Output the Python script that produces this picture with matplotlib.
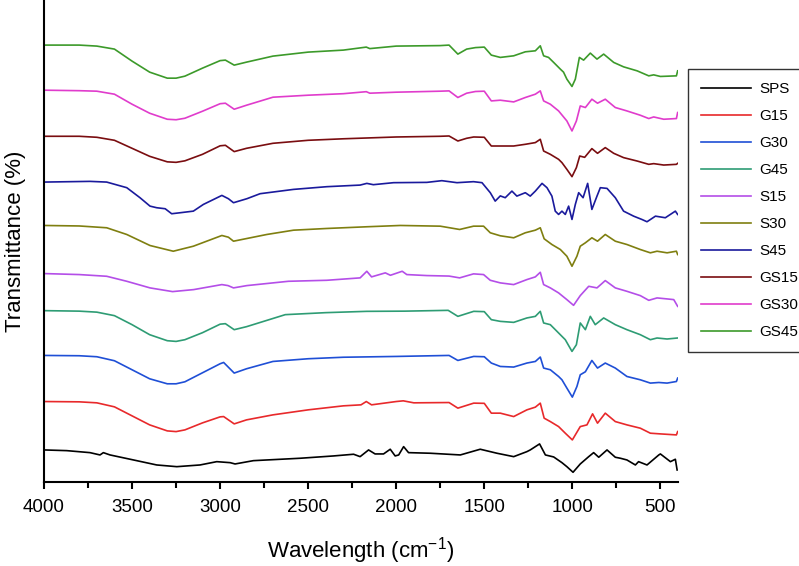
import matplotlib
matplotlib.use("Agg")
import matplotlib.pyplot as plt
from matplotlib.ticker import MultipleLocator

plt.rcParams['font.family'] = ['Liberation Sans', 'DejaVu Sans']
plt.rcParams['mathtext.fontset'] = 'custom'
plt.rcParams['mathtext.rm'] = 'Liberation Sans'
plt.rcParams['mathtext.it'] = 'Liberation Sans'

# FTIR spectra (wavenumber in cm-1, stacked transmittance in a.u.)
wn_sps = [4000, 3871, 3739, 3682, 3663, 3625, 3492, 3360, 3246, 3114, 3019, 2943, 2915, 2811, 2545, 2356,
          2242, 2205, 2157, 2120, 2072, 2034, 2006, 1986, 1958, 1930, 1807, 1636, 1523, 1428, 1333, 1258,
          1239, 1186, 1153, 1106, 1059, 1031, 996, 955, 907, 879, 850, 803, 756, 727, 690, 642, 624, 576,
          509, 500, 443, 415, 405]
t_sps = [32, 31.3, 29.3, 27, 29.3, 27, 22, 17, 15.3, 17, 20.3, 19.3, 18, 21.3, 23.7, 26,
         27.7, 25.3, 32, 28, 28, 32.7, 26, 27, 35.3, 29.3, 28.7, 27, 32.7, 28.7, 25.3, 30.3,
         32, 38, 27, 25, 19.3, 15.3, 9.7, 18, 25.3, 29.3, 24.7, 32, 24.7, 23.7, 22, 17, 20.3, 17,
         27, 28, 20.3, 22.7, 12]

wn_g15 = [4000, 3800, 3700, 3600, 3500, 3400, 3300, 3250, 3200, 3100, 3000, 2980, 2920, 2850, 2700, 2500,
          2300, 2200, 2170, 2140, 2000, 1960, 1900, 1700, 1650, 1560, 1500, 1460, 1409, 1333, 1258, 1210,
          1182, 1160, 1125, 1078, 1040, 1000, 955, 917, 885, 857, 813, 756, 690, 614, 557, 500, 409, 402]
t_g15 = [80.3, 80, 79, 75, 66, 57, 51, 50.3, 52, 59, 65, 65.3, 58, 62, 67, 72,
         76, 77, 80.3, 77, 80.3, 81, 79, 79.3, 73.7, 78.7, 78.5, 68.7, 68.7, 65.3, 72, 74.7,
         78.7, 63.7, 60.3, 55.3, 48.7, 42, 55.3, 57, 68, 58.7, 68.7, 60.3, 57, 53.7, 48.7, 48, 47, 50.3]

wn_g30 = [4000, 3800, 3700, 3600, 3500, 3400, 3300, 3250, 3200, 3100, 3000, 2980, 2920, 2850, 2700, 2500,
          2300, 2000, 1700, 1650, 1560, 1500, 1460, 1409, 1333, 1258, 1210, 1182, 1163, 1125, 1078, 1059,
          1031, 1000, 974, 955, 926, 889, 857, 813, 756, 690, 614, 557, 509, 462, 409, 402]
t_g30 = [126.3, 126, 125, 121, 112, 103, 98, 98, 100, 109, 118, 119.3, 108.7, 113, 120.3, 123,
         124.5, 125.3, 126.3, 121.3, 125.3, 125, 118.7, 115.3, 114.7, 118.7, 120.3, 124.7, 113.7, 112, 105.3, 102,
         93.7, 84.7, 95.3, 107, 110, 121.3, 113.7, 118.7, 113.7, 105.3, 102, 98.7, 99.3, 98.7, 100.3, 103.7]

wn_g45 = [4000, 3800, 3700, 3600, 3500, 3400, 3300, 3250, 3200, 3100, 3000, 2970, 2920, 2850, 2630, 2400,
          2168, 1950, 1705, 1650, 1560, 1500, 1460, 1409, 1333, 1258, 1210, 1182, 1163, 1125, 1087, 1040,
          1002, 977, 955, 926, 898, 870, 822, 756, 690, 614, 557, 519, 462, 402]
t_g45 = [171, 170.5, 169.5, 166, 157, 147, 141, 140.3, 142, 149, 157.5, 158, 152, 155, 167, 169,
         170.3, 170.5, 171.3, 165.3, 170.3, 170, 162, 160.3, 159.3, 163.7, 165.3, 170.3, 158.7, 157, 150.3, 142,
         130.3, 137, 158.7, 152, 165.3, 157, 163.7, 157, 152, 147, 142, 143.7, 142.7, 143.7]

wn_s15 = [4000, 3800, 3644, 3530, 3398, 3270, 3150, 2990, 2955, 2924, 2848, 2612, 2394, 2205, 2167, 2140,
          2062, 2033, 1966, 1940, 1826, 1700, 1640, 1561, 1504, 1466, 1409, 1333, 1258, 1210, 1182, 1163,
          1125, 1078, 1031, 993, 955, 907, 860, 813, 756, 690, 614, 566, 519, 462, 424, 402]
t_s15 = [208, 207, 205.3, 200.3, 193.7, 190, 192, 197, 196, 193.7, 196, 200.3, 201.3, 203.7, 210.3, 204.7,
         208.7, 206.3, 210.3, 207, 206, 205.5, 203.7, 207.7, 207, 201.3, 198.7, 197, 202, 204.7, 209.3, 197,
         193.7, 188.7, 182, 176.3, 186, 195.3, 193.7, 201, 193.7, 190.3, 186, 181.3, 183.7, 182.7, 182, 175.3]

wn_s30 = [4000, 3800, 3644, 3530, 3398, 3266, 3152, 2990, 2953, 2924, 2848, 2735, 2583, 2394, 2167, 1977,
          1750, 1640, 1561, 1504, 1466, 1409, 1333, 1267, 1210, 1182, 1160, 1116, 1068, 1031, 1002, 974,
          955, 926, 889, 857, 813, 756, 690, 614, 557, 519, 462, 409, 402]
t_s30 = [256, 255.5, 253.7, 247, 236, 230.3, 235.3, 246, 244.3, 240.3, 243, 247, 251.3, 253, 254.7, 256,
         255.3, 252, 255.3, 255.3, 248.7, 245.7, 243.7, 248.7, 251.3, 253.7, 242.7, 237, 232, 225.3, 215.3, 225.3,
         235.3, 238.7, 243.7, 240.3, 247, 240.3, 237, 232, 228.7, 230.3, 228.7, 230.3, 227]

wn_s45 = [4000, 3739, 3644, 3530, 3455, 3398, 3360, 3312, 3275, 3227, 3152, 3095, 2990, 2953, 2924, 2848,
          2773, 2583, 2394, 2205, 2167, 2130, 2015, 1826, 1741, 1655, 1561, 1513, 1466, 1438, 1409, 1381,
          1343, 1315, 1267, 1239, 1210, 1172, 1144, 1116, 1097, 1078, 1059, 1040, 1021, 1002, 983, 964,
          939, 913, 889, 860, 841, 803, 756, 709, 652, 605, 576, 528, 472, 415, 402]
t_s45 = [299.3, 300, 299.3, 293.7, 283.7, 275.3, 273.7, 272.7, 267.7, 268.7, 270.3, 277, 286, 282.7, 278.7, 282.7,
         287.7, 292, 294.7, 296.3, 298, 296.7, 298.7, 299, 300.7, 298.7, 299.7, 298.7, 288.7, 280.3, 285.5, 283.7,
         290.3, 285.3, 288.7, 285.3, 290.3, 298, 293.7, 285.3, 270.3, 267, 270.3, 267, 275.3, 262, 277, 288.7,
         283.7, 298, 272, 285.3, 293.7, 293, 283.7, 270.3, 265.3, 262, 259.7, 265.3, 263.7, 270.3, 267]

wn_gs15 = [4000, 3800, 3700, 3600, 3500, 3400, 3300, 3250, 3200, 3100, 3000, 2970, 2920, 2850, 2700, 2500,
           2300, 2000, 1750, 1700, 1650, 1600, 1560, 1500, 1460, 1409, 1333, 1267, 1210, 1182, 1163, 1125,
           1078, 1059, 1031, 1002, 977, 958, 930, 889, 857, 813, 765, 709, 632, 566, 538, 481, 409, 402]
t_gs15 = [345, 345, 344, 341, 333, 325, 319.5, 319, 320.5, 327, 335.5, 336, 329.7, 333, 338, 341,
          342.5, 344.3, 345, 345.3, 340.3, 343, 344.3, 344, 335.3, 335.3, 335.3, 337, 338.7, 342, 330.3, 327,
          322, 318.7, 312, 304.7, 313.7, 325.3, 324, 332.7, 328, 333.7, 328, 323.7, 320.3, 317, 317.7, 316.3, 317, 318]

wn_gs30 = [4000, 3800, 3700, 3600, 3500, 3400, 3300, 3250, 3200, 3100, 3000, 2970, 2920, 2850, 2700, 2500,
           2300, 2170, 2150, 2000, 1750, 1700, 1650, 1600, 1550, 1500, 1460, 1409, 1333, 1267, 1210, 1182,
           1163, 1125, 1078, 1031, 1002, 977, 955, 926, 889, 857, 813, 756, 690, 614, 566, 538, 481, 409, 402]
t_gs30 = [391, 390.5, 390, 387, 377, 368, 362, 361.5, 363, 370, 377.5, 378, 372, 376, 384, 386,
          387.5, 389.5, 388, 389, 390, 390.3, 383.7, 388, 389.7, 390, 380.3, 381, 379.3, 383.7, 387, 390.3,
          380.3, 377, 370.3, 360.3, 350.3, 360.3, 375.3, 373.7, 382, 378, 382, 373.7, 370.3, 366, 362.7, 364.3, 362, 362.7, 368.7]

wn_gs45 = [4000, 3800, 3700, 3600, 3500, 3400, 3300, 3250, 3200, 3100, 3000, 2970, 2920, 2850, 2700, 2500,
           2300, 2170, 2150, 2000, 1750, 1700, 1650, 1600, 1550, 1500, 1460, 1409, 1333, 1267, 1210, 1182,
           1163, 1135, 1106, 1068, 1050, 1031, 1002, 983, 960, 936, 898, 860, 822, 765, 709, 632, 566, 538,
           500, 409, 402]
t_gs45 = [436, 436, 435, 432, 420, 409, 403, 403, 405, 413, 420.5, 421, 416, 419, 425, 429,
          431, 434, 432.5, 435, 435.5, 436, 427, 432, 433.5, 434, 426, 423.7, 425.3, 429.3, 430.3, 435.3,
          425.3, 423.7, 418.7, 412, 409, 402, 394.7, 402, 423.7, 421, 428, 422, 427, 418.7, 414.3, 410.3, 405.3, 406.3,
          404.7, 405.3, 410.3]

labels = ['SPS', 'G15', 'G30', 'G45', 'S15', 'S30', 'S45', 'GS15', 'GS30', 'GS45']
colours = ['#000000', '#e8292b', '#1f4fd6', '#2e9c74', '#b44ee8', '#7f7f10',
           '#1a1a9c', '#7a0d10', '#e03ccc', '#3c9a2a']
wn_list = [wn_sps, wn_g15, wn_g30, wn_g45, wn_s15, wn_s30, wn_s45, wn_gs15, wn_gs30, wn_gs45]
t_list = [t_sps, t_g15, t_g30, t_g45, t_s15, t_s30, t_s45, t_gs15, t_gs30, t_gs45]

fig = plt.figure(figsize=(7.99, 5.66), dpi=100)
ax = fig.add_axes([44 / 799, 84 / 566, 634 / 799, 481 / 566])

for wn, t, lab, col in zip(wn_list, t_list, labels, colours):
    ax.plot(wn, t, color=col, lw=1.2, label=lab)

ax.set_xlim(4000, 400)
ax.set_ylim(0, 480)

# only left and bottom axis lines, like the original
ax.spines['top'].set_visible(False)
ax.spines['right'].set_visible(False)
ax.spines['left'].set_linewidth(1.5)
ax.spines['bottom'].set_linewidth(1.5)

ax.xaxis.set_major_locator(MultipleLocator(500))
ax.xaxis.set_minor_locator(MultipleLocator(250))
ax.tick_params(axis='x', which='major', direction='out', length=5, width=1.5, labelsize=13.5, pad=7)
ax.tick_params(axis='x', which='minor', direction='out', length=4, width=1.5)
ax.set_yticks([])

ax.set_xlabel('Wavelength (cm$^{\\mathrm{-1}}$)', fontsize=16, labelpad=14)
ax.set_ylabel('Transmittance (%)', fontsize=16, labelpad=13)

leg = ax.legend(loc='upper left', bbox_to_anchor=(688 / 799, 1 - 69 / 566),
                bbox_transform=fig.transFigure, fontsize=11, frameon=True, fancybox=False,
                edgecolor='black', handlelength=3.3, handletextpad=0.5, labelspacing=0.85,
                borderpad=0.85, borderaxespad=0)
leg.get_frame().set_linewidth(1.0)

fig.savefig('out.png', dpi=100)
